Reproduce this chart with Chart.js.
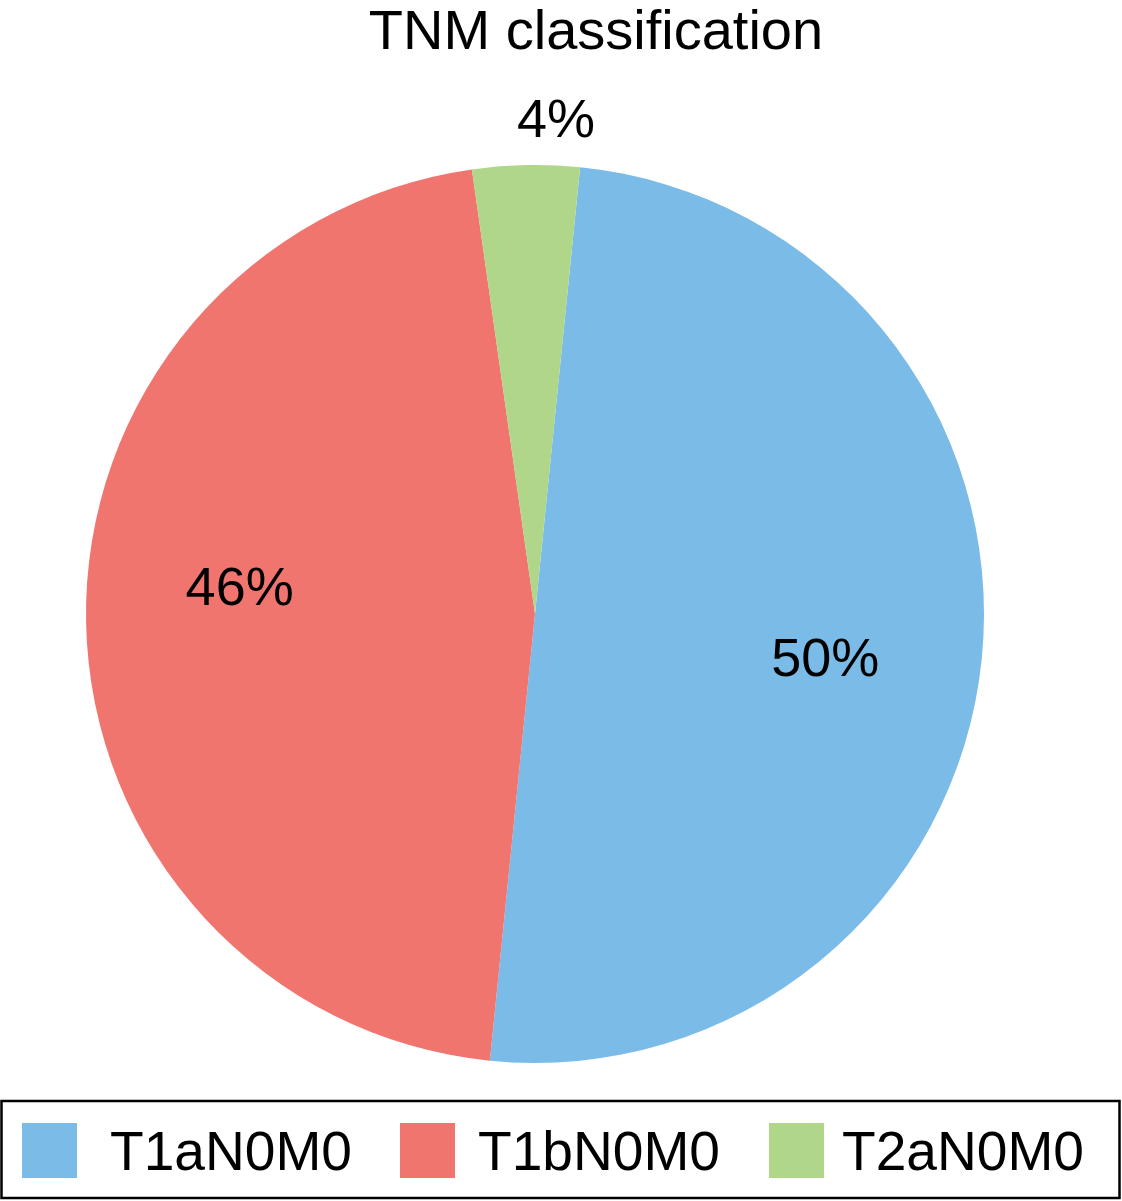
<!DOCTYPE html>
<html>
<head>
<meta charset="utf-8">
<script src="https://cdn.jsdelivr.net/npm/chart.js@4.4.0/dist/chart.umd.min.js"></script>
<style>
html,body{margin:0;padding:0;background:#fff;}
#wrap{width:1122px;height:1201px;position:relative;}
</style>
</head>
<body>
<div id="wrap"><canvas id="c" width="1122" height="1201"></canvas></div>
<script>
const titleText = "TNM classification";
const categories = ["T1aN0M0", "T1bN0M0", "T2aN0M0"];
const counts = [13, 12, 1];
const colors = ["#7ABBE7", "#F1756F", "#B0D68A"];

const FONT = '"Liberation Sans", Arial, Helvetica, sans-serif';

const overlay = {
  id: 'overlay',
  afterDraw(chart) {
    const ctx = chart.ctx;
    ctx.save();
    // title
    ctx.fillStyle = '#000';
    ctx.font = '56px ' + FONT;
    ctx.textAlign = 'center';
    ctx.textBaseline = 'alphabetic';
    ctx.fillText(titleText, 596, 49);

    // percentage labels
    const meta = chart.getDatasetMeta(0);
    const total = counts.reduce((a, b) => a + b, 0);
    const radFrac = [0.655, 0.66, 1.096];
    const angOff = [3.4, 5.8, 3.6];
    ctx.font = '54px ' + FONT;
    ctx.textBaseline = 'middle';
    meta.data.forEach((arc, i) => {
      const p = arc.getProps(['x', 'y', 'startAngle', 'endAngle', 'outerRadius'], true);
      const mid = (p.startAngle + p.endAngle) / 2 + angOff[i] * Math.PI / 180;
      const r = p.outerRadius * radFrac[i];
      const x = p.x + Math.cos(mid) * r;
      const y = p.y + Math.sin(mid) * r;
      ctx.fillText(Math.round(counts[i] / total * 100) + '%', x, y);
    });

    // legend
    ctx.lineWidth = 2.5;
    ctx.strokeStyle = '#000';
    ctx.strokeRect(1.5, 1101, 1118, 97);
    const boxX = [22, 400, 769];
    const textX = [110, 478, 842];
    ctx.font = '56px ' + FONT;
    ctx.textAlign = 'left';
    ctx.textBaseline = 'alphabetic';
    categories.forEach((c, i) => {
      ctx.fillStyle = colors[i];
      ctx.fillRect(boxX[i], 1123, 55, 55);
      ctx.fillStyle = '#000';
      const w = ctx.measureText(c).width;
      const target = 242;
      ctx.save();
      ctx.translate(textX[i], 1170);
      ctx.scale(target / w, 1);
      ctx.fillText(c, 0, 0);
      ctx.restore();
    });
    ctx.restore();
  }
};

new Chart(document.getElementById('c'), {
  type: 'pie',
  data: {
    labels: categories,
    datasets: [{
      data: counts,
      backgroundColor: colors,
      borderWidth: 0
    }]
  },
  options: {
    responsive: false,
    animation: false,
    rotation: 5.77,
    layout: { padding: { left: 86, right: 138, top: 165, bottom: 138 } },
    plugins: {
      legend: { display: false },
      title: { display: false },
      tooltip: { enabled: false }
    }
  },
  plugins: [overlay]
});
</script>
</body>
</html>
